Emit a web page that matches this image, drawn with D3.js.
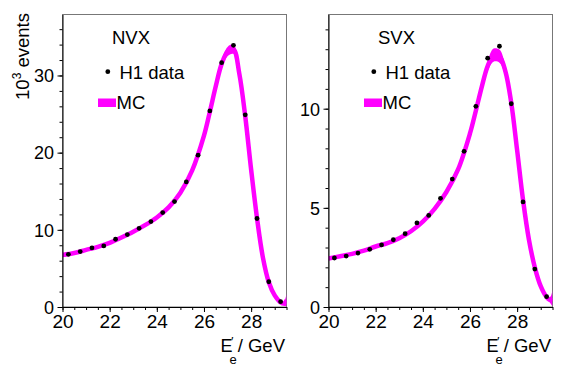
<!DOCTYPE html>
<html>
  <head>
    <meta charset="utf-8">
    <title>H1 electron energy</title>
    <script src="https://d3js.org/d3.v7.min.js"></script>
    <style type="text/css">
    body { margin: 0; background: #fff; }
    text { font-family: "Liberation Sans", Arial, sans-serif; fill: #000; }
    </style>
  </head>
  <body>
    <div id="chart"></div>

    <script>
      // data bins (GeV) and measured event counts (10^3)
      var energy = [20.25, 20.75, 21.25, 21.75, 22.25, 22.75, 23.25, 23.75, 24.25, 24.75,
                    25.25, 25.75, 26.25, 26.75, 27.25, 27.75, 28.25, 28.75, 29.25];
      var nvxData = [6.83, 7.18, 7.65, 7.91, 8.78, 9.38, 10.2, 11.07, 12.24, 13.66,
                     16.2, 19.67, 25.4, 31.66, 33.9, 24.9, 11.47, 3.27, 0.69];
      var svxData = [2.47, 2.57, 2.72, 2.91, 3.13, 3.39, 3.70, 4.24, 4.62, 5.48,
                     6.45, 7.85, 10.12, 12.55, 13.15, 10.25, 5.3, 1.91, 0.52];

      // MC band: centre and half width
      var mcEnergy = [20, 20.5, 21, 21.5, 22, 22.5, 23, 23.5, 24, 24.5, 25, 25.5, 26, 26.25,
                      26.5, 26.75, 27, 27.25, 27.5, 27.75, 28, 28.25, 28.5, 28.75, 29, 29.25, 29.4, 29.5];
      var nvxMC = [6.75, 7.0, 7.4, 7.8, 8.3, 9.0, 9.75, 10.6, 11.6, 12.9, 14.8, 17.7, 22.2, 25.3,
                   28.6, 31.5, 33.1, 33.4, 30.2, 24.7, 17.8, 11.5, 6.4, 3.2, 1.5, 0.6, 0.45, 0.9];
      var nvxErr = [0.1, 0.1, 0.1, 0.1, 0.12, 0.12, 0.13, 0.14, 0.15, 0.17, 0.2, 0.22, 0.28, 0.3,
                    0.35, 0.45, 0.6, 0.6, 0.5, 0.4, 0.3, 0.2, 0.15, 0.1, 0.1, 0.1, 0.3, 0.85];
      var svxMC = [2.45, 2.56, 2.68, 2.84, 3.05, 3.22, 3.47, 3.82, 4.3, 4.95, 5.8, 6.95, 8.75, 9.9,
                   11.1, 12.15, 12.7, 12.65, 11.9, 10.3, 7.9, 5.4, 3.4, 2.0, 1.05, 0.5, 0.35, 0.45];
      var svxErr = [0.05, 0.05, 0.05, 0.06, 0.06, 0.06, 0.07, 0.07, 0.08, 0.09, 0.1, 0.12, 0.15, 0.17,
                    0.2, 0.26, 0.33, 0.33, 0.28, 0.2, 0.15, 0.1, 0.08, 0.06, 0.05, 0.05, 0.15, 0.42];

      var xTicks = [20, 22, 24, 26, 28];
      var nvxTicks = [0, 10, 20, 30];
      var svxTicks = [0, 5, 10];

      var width = 567, height = 369;
      var plotTop = 14.5, plotBottom = 307;

      var svg = d3.select('#chart').append('svg')
          .attr('width', width)
          .attr('height', height);

      var panels = [
        {name: 'NVX', x0: 62.5, x1: 286.5, ymax: 37.9, data: nvxData, mc: nvxMC, err: nvxErr,
         ticks: nvxTicks, minorStep: 2},
        {name: 'SVX', x0: 328.5, x1: 552.5, ymax: 14.75, data: svxData, mc: svxMC, err: svxErr,
         ticks: svxTicks, minorStep: 1}
      ];

      panels.forEach(function(p, k) {
        var x = d3.scaleLinear().domain([20, 29.5]).range([p.x0, p.x1]);
        var y = d3.scaleLinear().domain([0, p.ymax]).range([plotBottom, plotTop]);
        var g = svg.append('g');

        var clipId = 'clip' + k;
        svg.append('clipPath').attr('id', clipId)
          .append('rect')
          .attr('x', p.x0).attr('y', plotTop)
          .attr('width', p.x1 - p.x0).attr('height', plotBottom - plotTop);

        // frame
        g.append('rect')
          .attr('x', p.x0).attr('y', plotTop)
          .attr('width', p.x1 - p.x0).attr('height', plotBottom - plotTop)
          .attr('fill', 'none')
          .attr('stroke', '#777')
          .attr('stroke-width', 1);

        // MC band
        var band = mcEnergy.map(function(e, i) { return {e: e, v: p.mc[i], s: p.err[i]}; });
        var curve = d3.curveCatmullRom.alpha(0.5);
        var plot = g.append('g').attr('clip-path', 'url(#' + clipId + ')');
        plot.append('path')
          .datum(band)
          .attr('d', d3.area().curve(curve)
            .x(function(d) { return x(d.e); })
            .y0(function(d) { return y(d.v - d.s); })
            .y1(function(d) { return y(d.v + d.s); }))
          .attr('fill', '#ff00ff');
        plot.append('path')
          .datum(band)
          .attr('d', d3.line().curve(curve)
            .x(function(d) { return x(d.e); })
            .y(function(d) { return y(d.v); }))
          .attr('fill', 'none')
          .attr('stroke', '#ff00ff')
          .attr('stroke-width', 4.5);

        // data points
        g.selectAll('circle.pt')
          .data(p.data)
          .enter()
          .append('circle')
          .attr('class', 'pt')
          .attr('cx', function(d, i) { return x(energy[i]); })
          .attr('cy', function(d) { return y(d); })
          .attr('r', 2.4)
          .attr('fill', '#000');

        // axes
        var xMinor = d3.range(20, 29.51, 0.5);
        var yMinor = d3.range(0, p.ymax, p.minorStep);

        var ax = g.append('g').attr('transform', 'translate(0,' + plotBottom + ')');
        ax.call(d3.axisBottom(x).tickValues(xMinor).tickSize(3).tickFormat('').tickSizeOuter(0));
        ax.append('g').call(d3.axisBottom(x).tickValues(xTicks).tickSize(5).tickSizeOuter(0)
            .tickFormat(d3.format('d')))
          .call(function(s) { s.select('.domain').remove(); });

        var ay = g.append('g').attr('transform', 'translate(' + p.x0 + ',0)');
        ay.call(d3.axisLeft(y).tickValues(yMinor).tickSize(3).tickFormat('').tickSizeOuter(0));
        ay.append('g').call(d3.axisLeft(y).tickValues(p.ticks).tickSize(5).tickSizeOuter(0)
            .tickFormat(d3.format('d')))
          .call(function(s) { s.select('.domain').remove(); });

        g.selectAll('.domain').attr('stroke', '#000');
        g.selectAll('.tick line').attr('stroke', '#000');
        ax.selectAll('text')
          .attr('font-size', 19)
          .attr('font-family', '"Liberation Sans", Arial, sans-serif')
          .attr('dy', null).attr('y', 21);
        ay.selectAll('text')
          .attr('font-size', 18)
          .attr('font-family', '"Liberation Sans", Arial, sans-serif')
          .attr('x', -8.5).attr('dy', '0.35em');

        // title and legend
        g.append('text')
          .attr('x', p.x0 + 49.5).attr('y', 44)
          .attr('font-size', 18.5)
          .text(p.name);
        g.append('circle')
          .attr('cx', p.x0 + 45.3).attr('cy', 71.7)
          .attr('r', 2.4).attr('fill', '#000');
        g.append('text')
          .attr('x', p.x0 + 57).attr('y', 78.5)
          .attr('font-size', 18.5)
          .text('H1 data');
        g.append('rect')
          .attr('x', p.x0 + 35.5).attr('y', 98.5)
          .attr('width', 18).attr('height', 8.5)
          .attr('fill', '#ff00ff');
        g.append('text')
          .attr('x', p.x0 + 54).attr('y', 108.5)
          .attr('font-size', 18.5)
          .text('MC');

        // x axis title E'_e / GeV
        g.append('text')
          .attr('x', p.x1 - 66).attr('y', 352)
          .attr('font-size', 18)
          .text('E');
        g.append('text')
          .attr('x', p.x1 - 55.5).attr('y', 346)
          .attr('font-size', 13)
          .text('\u2032');
        g.append('text')
          .attr('x', p.x1 - 57).attr('y', 364)
          .attr('font-size', 13)
          .text('e');
        g.append('text')
          .attr('x', p.x1 - 1.5).attr('y', 352)
          .attr('text-anchor', 'end')
          .attr('font-size', 18.5)
          .text('/ GeV');
      });

      // y axis title
      var yt = svg.append('text')
        .attr('transform', 'translate(29,13) rotate(-90)')
        .attr('text-anchor', 'end')
        .attr('font-size', 18.5);
      yt.append('tspan').text('10');
      yt.append('tspan').attr('font-size', 12).attr('dy', -8).text('3');
      yt.append('tspan').attr('dy', 8).text(' events');
    </script>
  </body>
</html>
